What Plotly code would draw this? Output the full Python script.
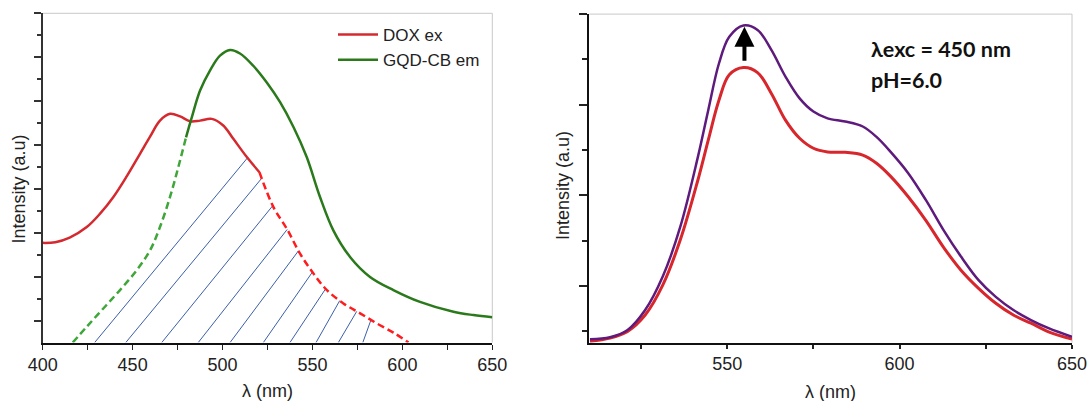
import numpy as np
import plotly.graph_objects as go

# ---------------- data: left panel (spectral overlap) ----------------
dox_x = [400, 407.0, 415.0, 424.5, 431.9, 439.3, 446.7, 454.1, 459.7, 465.2,
         470.8, 476.4, 481.9, 487.5, 494.0, 500.4, 506.0, 513.5, 520.5,
         528.3, 535.7, 543.1, 550.5, 558.0, 567.2, 576.5, 585.8, 595.0, 603.4]
dox_y = [4.54, 4.57, 4.78, 5.26, 5.87, 6.63, 7.57, 8.60, 9.38, 10.11,
         10.42, 10.30, 10.08, 10.11, 10.19, 9.89, 9.28, 8.45, 7.76,
         6.17, 5.19, 4.05, 3.15, 2.39, 1.78, 1.33, 0.87, 0.45, 0.0]
dox_split = 520.5

gqd_x = [416.7, 424.5, 433.7, 443.0, 452.3, 459.7, 465.2, 470.8, 475.4, 479.7,
         482.9, 487.5, 493.0, 498.6, 504.2, 509.7, 517.1, 524.6, 532.0, 539.5, 546.8,
         554.2, 561.6, 570.9, 582.0, 595.0, 609.8, 628.4, 639.5, 650.0]
gqd_y = [0.0, 0.72, 1.55, 2.39, 3.30, 4.20, 5.26, 6.63, 7.99, 9.35,
         10.26, 11.48, 12.39, 13.07, 13.33, 13.17, 12.61, 11.85, 10.95, 9.81, 8.45,
         6.63, 5.11, 3.90, 2.99, 2.39, 1.85, 1.40, 1.25, 1.15]
gqd_split = 479.7

# overlap hatching: bottom intercept (nm) and slope (nm per unit) of each hatch line
hatch_c = [399.5, 402.2, 413.0, 428.9, 446.2, 466.2, 486.5, 504.2, 522.7, 537.5, 552.0, 564.4, 578.0]
hatch_k = [9.3, 10.2, 10.2, 10.1, 10.1, 9.9, 9.6, 9.1, 8.5, 8.1, 6.9, 7.2, 4.4]

left_xticks = [400, 450, 500, 550, 600, 650]
left_xminor = [425, 475, 525, 575, 625]
left_ymajor = [1, 3, 5, 7, 9, 11, 13, 15]
left_yminor = [2, 4, 6, 8, 10, 12, 14]

# ---------------- data: right panel (emission) ----------------
em_x = [510.2, 516.0, 521.1, 526.2, 531.3, 536.4, 541.5, 544.5, 547.6, 550.6, 554.7, 558.8,
        562.8, 566.9, 571.0, 575.0, 579.1, 584.2, 589.3, 593.3, 597.4, 602.5, 607.6,
        612.7, 617.8, 622.9, 627.9, 633.0, 638.1, 643.2, 650.0]
em_hi = [0.075, 0.12, 0.28, 0.72, 1.46, 2.56, 4.10, 5.13, 6.16, 6.75, 7.00, 6.90,
         6.46, 5.87, 5.39, 5.10, 4.95, 4.88, 4.77, 4.54, 4.21, 3.74, 3.15,
         2.49, 1.90, 1.38, 1.01, 0.72, 0.50, 0.32, 0.13]
em_lo = [0.03, 0.10, 0.25, 0.61, 1.27, 2.27, 3.59, 4.47, 5.35, 5.91, 6.07, 5.96,
         5.50, 4.91, 4.51, 4.29, 4.21, 4.20, 4.14, 3.96, 3.67, 3.22, 2.70,
         2.11, 1.60, 1.20, 0.87, 0.61, 0.43, 0.24, 0.08]
right_xticks = [550, 600, 650]
right_xminor = [525, 575, 625]
right_ymajor = [1.25, 3.25, 5.25, 7.25]
right_yminor = [0.25, 2.25, 4.25, 6.25]
arrow_nm = 555
arrow_from = 6.19
arrow_to = 6.97

W, H = 1088, 401
FONT = "Liberation Sans, Arial, sans-serif"

RED = "#d42a2f"
RED_D = "#ff1c1c"
GREEN = "#2a7a1c"
GREEN_D = "#3fa63a"
BLUE = "#3b5fa8"
PURPLE = "#5e1a7c"
RED2 = "#d7262c"

fig = go.Figure()

# ---- hatch lines computed from the overlap region ----
dx_arr = np.array(dox_x); dy_arr = np.array(dox_y)
gx_arr = np.array(gqd_x); gy_arr = np.array(gqd_y)


def upper(nm):
    r = np.interp(nm, dx_arr, dy_arr, left=0, right=0)
    g = np.interp(nm, gx_arr, gy_arr, left=0, right=gy_arr[-1])
    return np.minimum(r, g)


hx, hy = [], []
for c, k in zip(hatch_c, hatch_k):
    v = np.linspace(0, 15, 6000)
    nm = c + k * v
    inside = v <= upper(nm)
    idx = np.where(inside)[0]
    if len(idx) == 0:
        continue
    start = idx[0]
    end = start
    while end + 1 < len(v) and inside[end + 1]:
        end += 1
    hx += [nm[start], nm[end], None]
    hy += [v[start], v[end], None]

fig.add_trace(go.Scatter(x=hx, y=hy, mode="lines", line=dict(color=BLUE, width=1),
                         showlegend=False, hoverinfo="skip", xaxis="x", yaxis="y"))

# split curves into solid / dashed parts
di = dox_x.index(dox_split)
gi = gqd_x.index(gqd_split)

fig.add_trace(go.Scatter(x=gqd_x[:gi + 1], y=gqd_y[:gi + 1], mode="lines",
                         line=dict(color=GREEN_D, width=2.5, dash="7px,4px", shape="spline"),
                         showlegend=False, xaxis="x", yaxis="y"))
fig.add_trace(go.Scatter(x=dox_x[di:], y=dox_y[di:], mode="lines",
                         line=dict(color=RED_D, width=2.5, dash="7px,4px", shape="spline"),
                         showlegend=False, xaxis="x", yaxis="y"))
fig.add_trace(go.Scatter(x=dox_x[:di + 1], y=dox_y[:di + 1], mode="lines", name="DOX ex",
                         line=dict(color=RED, width=2.5, shape="spline"), xaxis="x", yaxis="y"))
fig.add_trace(go.Scatter(x=gqd_x[gi:], y=gqd_y[gi:], mode="lines", name="GQD-CB em",
                         line=dict(color=GREEN, width=2.5, shape="spline"), xaxis="x", yaxis="y"))

# right panel
fig.add_trace(go.Scatter(x=em_x, y=em_lo, mode="lines", showlegend=False,
                         line=dict(color=RED2, width=3, shape="spline"), xaxis="x2", yaxis="y2"))
fig.add_trace(go.Scatter(x=em_x, y=em_hi, mode="lines", showlegend=False,
                         line=dict(color=PURPLE, width=2.5, shape="spline"), xaxis="x2", yaxis="y2"))

LX = [42.7 / W, 492.3 / W]
LY = [1 - 342.5 / H, 1 - 13.3 / H]
RX = [589.3 / W, 1072 / W]
RY = [1 - 342.7 / H, 1 - 14.1 / H]

tickfont = dict(family=FONT, size=18, color="#222")

fig.update_layout(
    width=W, height=H, margin=dict(l=0, r=0, t=0, b=0, autoexpand=False),
    paper_bgcolor="white", plot_bgcolor="white",
    showlegend=True,
    legend=dict(x=333 / W, y=1 - 17 / H, xanchor="left", yanchor="top",
                font=dict(family=FONT, size=17, color="#222"), bgcolor="rgba(0,0,0,0)",
                itemwidth=40, tracegroupgap=0),
    xaxis=dict(domain=LX, range=[400, 650], tickvals=left_xticks, ticks="outside", ticklen=5,
               tickwidth=1.2, tickcolor="#222", showline=True, linecolor="#111", linewidth=2,
               showgrid=False, zeroline=False, tickfont=tickfont, anchor="y", automargin=False,
               minor=dict(tickvals=left_xminor, ticks="outside", ticklen=5, tickwidth=1.2,
                          tickcolor="#222", showgrid=False)),
    yaxis=dict(domain=LY, range=[0, 15], tickvals=left_ymajor, ticks="outside", ticklen=7,
               tickwidth=1.5, tickcolor="#333", showticklabels=False, showline=True,
               linecolor="#333", linewidth=1.5, showgrid=False, zeroline=False, anchor="x",
               automargin=False,
               minor=dict(tickvals=left_yminor, ticks="outside", ticklen=4, tickwidth=1.5,
                          tickcolor="#333", showgrid=False)),
    xaxis2=dict(domain=RX, range=[510, 650], tickvals=right_xticks, ticks="outside", ticklen=4,
                tickwidth=1.5, tickcolor="#222", showline=True, linecolor="#111", linewidth=2,
                showgrid=False, zeroline=False, tickfont=tickfont, anchor="y2", automargin=False,
                minor=dict(tickvals=right_xminor, ticks="outside", ticklen=4, tickwidth=1.5,
                           tickcolor="#222", showgrid=False)),
    yaxis2=dict(domain=RY, range=[0, 7.25], tickvals=right_ymajor, ticks="outside", ticklen=8,
                tickwidth=1.5, tickcolor="#222", showticklabels=False, showline=True,
                linecolor="#111", linewidth=2, showgrid=False, zeroline=False, anchor="x2",
                automargin=False,
                minor=dict(tickvals=right_yminor, ticks="outside", ticklen=5, tickwidth=1.5,
                           tickcolor="#222", showgrid=False)),
)

# light frame (top / right borders)
for dx, dy in ((LX, LY), (RX, RY)):
    fig.add_shape(type="line", xref="paper", yref="paper", x0=dx[0], x1=dx[1], y0=dy[1], y1=dy[1],
                  line=dict(color="#c8c8c8", width=1), layer="below")
    fig.add_shape(type="line", xref="paper", yref="paper", x0=dx[1], x1=dx[1], y0=dy[0], y1=dy[1],
                  line=dict(color="#c8c8c8", width=1), layer="below")

titlefont = dict(family=FONT, size=18, color="#222")
anns = [
    dict(text="λ (nm)", x=267 / W, y=1 - 391 / H, showarrow=False, font=titlefont,
         xanchor="center", yanchor="middle"),
    dict(text="λ (nm)", x=830 / W, y=1 - 392 / H, showarrow=False, font=titlefont,
         xanchor="center", yanchor="middle"),
    dict(text="Intensity (a.u)", x=18.5 / W, y=1 - 189 / H, showarrow=False, font=titlefont,
         textangle=-90, xanchor="center", yanchor="middle"),
    dict(text="Intensity (a.u)", x=563 / W, y=1 - 186 / H, showarrow=False, font=titlefont,
         textangle=-90, xanchor="center", yanchor="middle"),
    dict(text="<b>λexc = 450 nm</b>", x=869 / W, y=1 - 49 / H, showarrow=False,
         font=dict(family="Lato, Open Sans, sans-serif", size=21.5, color="#111"),
         xanchor="left", yanchor="middle"),
    dict(text="<b>pH=6.0</b>", x=869 / W, y=1 - 80 / H, showarrow=False,
         font=dict(family="Lato, Open Sans, sans-serif", size=21.5, color="#111"),
         xanchor="left", yanchor="middle"),
]
for a in anns:
    a.update(xref="paper", yref="paper")
    fig.add_annotation(**a)

fig.add_annotation(x=arrow_nm, y=arrow_to, ax=arrow_nm, ay=arrow_from, xref="x2", yref="y2",
                   axref="x2", ayref="y2", text="", showarrow=True, arrowhead=2, arrowsize=1,
                   arrowwidth=4, arrowcolor="#000")

fig.write_html("out.html")
